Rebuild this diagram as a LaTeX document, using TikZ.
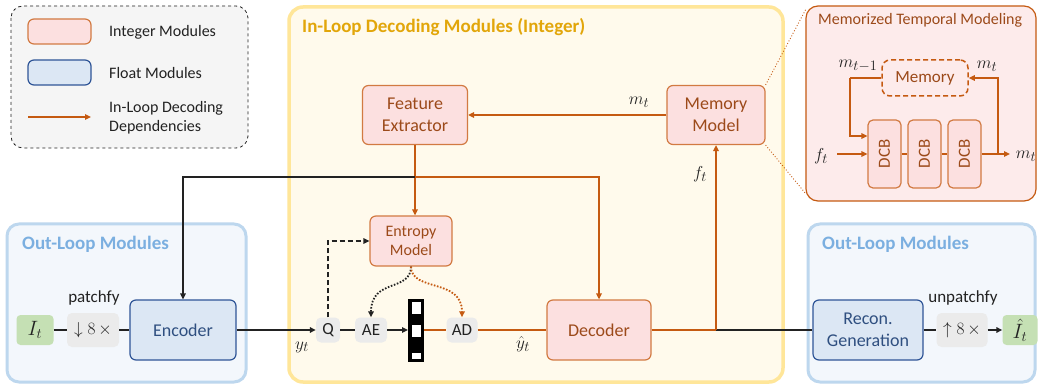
\documentclass[tikz,border=0pt]{standalone}
\usepackage{fontspec}
\setmainfont{Carlito}
\usetikzlibrary{arrows.meta,calc}
\definecolor{org}{HTML}{C55A11}
\definecolor{orgb}{HTML}{D27A42}
\definecolor{pinkf}{HTML}{FCE0E0}
\definecolor{orgtxt}{HTML}{9C4A1A}
\definecolor{bluef}{HTML}{DCE7F4}
\definecolor{blueb}{HTML}{2F5597}
\definecolor{bluetxt}{HTML}{2F4F80}
\definecolor{greenf}{HTML}{C5E0B4}
\definecolor{grayf}{HTML}{EBEBEB}
\definecolor{yelf}{HTML}{FFFAEC}
\definecolor{yelb}{HTML}{FFE699}
\definecolor{yeltxt}{HTML}{E2A60A}
\definecolor{outf}{HTML}{F3F7FC}
\definecolor{outb}{HTML}{BDD7EE}
\definecolor{outtxt}{HTML}{7BAFE0}
\definecolor{mtmf}{HTML}{FDEBEB}
\definecolor{legf}{HTML}{F5F5F5}
\definecolor{txt}{HTML}{222222}
\tikzset{
  fs/.style 2 args={font=\fontsize{#1}{#2}\selectfont},
  intbox/.style={draw=orgb, fill=pinkf, rounded corners=6pt, line width=1.2pt, text=orgtxt, align=center, inner sep=0pt, fs={18}{22}},
  fltbox/.style={draw=blueb, fill=bluef, rounded corners=6pt, line width=1.2pt, text=bluetxt, align=center, inner sep=0pt, fs={18}{22}},
  grnbox/.style={fill=greenf, rounded corners=4pt, inner sep=0pt, text=txt, fs={21}{24}},
  graybox/.style={fill=grayf, rounded corners=5pt, inner sep=0pt, text=txt, fs={17}{20}},
  blk/.style={draw=txt, line width=1.5pt},
  orl/.style={draw=org, line width=1.6pt},
  tip/.style={-{Triangle[length=6pt,width=5.5pt]}},
  lbl/.style={text=txt, inner sep=0pt, fs={17}{20}},
  mlbl/.style={text=txt, inner sep=0pt, fs={19}{22}},
  ttl/.style={font=\bfseries\fontsize{19}{22}\selectfont, anchor=west, inner sep=0pt},
}
\begin{document}
\begin{tikzpicture}[x=1pt,y=-1pt]
\path[use as bounding box, fill=white] (0,0) rectangle (1040,387);
% legend
\draw[draw=txt, dashed, fill=legf, rounded corners=12pt, line width=0.8pt] (11,6) rectangle (248,148);
\node[intbox, minimum width=63, minimum height=25] (lg1) at (59.5,31.5) {};
\node[fltbox, minimum width=63, minimum height=25] (lg2) at (59.5,72.5) {};
\coordinate (la1) at (28,117); \coordinate (la2) at (91,117);
\draw[orl,tip] (la1) -- (la2);
\node[lbl, anchor=west, fs={16}{20}] (lt1) at (109,32) {Integer Modules};
\node[lbl, anchor=west, fs={16}{20}] (lt2) at (109,73) {Float Modules};
\node[lbl, anchor=west, align=left, fs={16}{19}] (lt3) at (109,118) {In-Loop Decoding\\Dependencies};
% containers
\draw[draw=yelb, fill=yelf, line width=3.5pt, rounded corners=14pt] (289,7) rectangle (783,382);
\node[ttl, text=yeltxt] (t1) at (302,27) {In-Loop Decoding Modules (Integer)};
\draw[draw=outb, fill=outf, line width=3pt, rounded corners=12pt] (7,224) rectangle (246,382);
\node[ttl, text=outtxt] (t2) at (22,244) {Out-Loop Modules};
\draw[draw=outb, fill=outf, line width=3pt, rounded corners=12pt] (808,224) rectangle (1035,382);
\node[ttl, text=outtxt] (t3) at (822,244) {Out-Loop Modules};
\draw[draw=org, fill=mtmf, line width=1.2pt, rounded corners=12pt] (806,6) rectangle (1036,201);
\node[anchor=west, inner sep=0pt, text=orgtxt, fs={16}{19}] (t4) at (818,20) {Memorized Temporal Modeling};
% main nodes
\node[intbox, minimum width=105, minimum height=59] (fe) at (415,115) {Feature\\Extractor};
\node[intbox, minimum width=98, minimum height=59] (mm) at (716,115) {Memory\\Model};
\node[intbox, minimum width=82, minimum height=50, fs={16}{19}] (em) at (411,241) {Entropy\\Model};
\node[intbox, minimum width=104, minimum height=60] (dec) at (599,330) {Decoder};
\node[fltbox, minimum width=106, minimum height=60] (enc) at (183,330) {Encoder};
\node[fltbox, minimum width=110, minimum height=60] (rec) at (868,330) {Recon.\\Generation};
\node[grnbox, minimum width=37, minimum height=30] (it) at (35,330) {$I_t$};
\node[graybox, minimum width=52, minimum height=34, fs={19}{22}] (ds) at (93,330) {$\downarrow 8\,\times$};
\node[graybox, minimum width=24, minimum height=25] (q) at (328,330) {Q};
\node[graybox, minimum width=32, minimum height=25] (ae) at (371,330) {AE};
\node[graybox, minimum width=31, minimum height=25] (ad) at (462,330) {AD};
\node[graybox, minimum width=51, minimum height=34, fs={19}{22}] (us) at (962,330) {$\uparrow 8\,\times$};
\node[grnbox, minimum width=35, minimum height=30] (ith) at (1020,330) {$\hat{I}_t$};
\node[draw=black, fill=black, line width=1pt, minimum width=15, minimum height=62, inner sep=0pt] (bs) at (416,330) {};
% labels
\node[lbl] (lp) at (94,298) {patchfy};
\node[lbl] (lu) at (963,298) {unpatchfy};
\node[mlbl] (ly) at (302,347) {$y_t$};
\node[mlbl] (lyh) at (523,344) {$\hat{y}_t$};
\node[mlbl] (lm) at (639,102) {$m_t$};
\node[mlbl] (lf) at (700,174) {$f_t$};
% connectors
\draw[blk] (it) -- (ds);
\draw[blk] (ds) -- (enc);
\draw[blk,tip] (enc) -- (q);
\draw[blk] (q) -- (ae);
\draw[blk,tip] (ae) -- (bs);
\draw[orl] (bs) -- (ad);
\draw[orl] (ad) -- (dec);
\draw[orl,tip] (fe.south) -- (fe.south |- em.north);
\coordinate (j1) at (415,177);
\draw[blk,tip] (j1) -| (enc.north);
\draw[orl,tip] (j1) -| (dec.north);
\draw[orl,tip] (mm) -- (fe);
\coordinate (j2) at (716,330);
\draw[orl] (dec) -- (j2);
\draw[blk] (j2) -- (rec);
\draw[orl,tip] (j2) -- (mm.south);
\draw[blk,dash pattern=on 5pt off 3pt,tip] (q.north) |- (em.west);
\draw[txt,line width=1.8pt,dash pattern=on 1.6pt off 1.6pt,tip] (em.south) .. controls (411,292) and (371,278) .. (ae.north);
\draw[org,line width=1.8pt,dash pattern=on 1.6pt off 1.6pt,tip] (em.south) .. controls (411,292) and (462,278) .. (ad.north);
\draw[blk] (rec) -- (us);
\draw[blk,tip] (us) -- (ith);
\fill[white] (412,302) rectangle (420.5,314);
\fill[white] (412,325) rectangle (420.5,337);
\fill[white] (412,353) rectangle (420.5,359);
% zoom lines
\coordinate (z1) at (806,9);
\coordinate (z2) at (806,194);
\draw[org, dotted, line width=0.9pt] (mm.north east) -- (z1);
\draw[org, dotted, line width=0.9pt] (mm.south east) -- (z2);
% MTM interior
\node[draw=org, dash pattern=on 5pt off 3pt, line width=1.5pt, rounded corners=8pt, minimum width=86, minimum height=36, inner sep=0pt, text=orgtxt, fs={17}{20}] (memo) at (925,78) {Memory};
\node[intbox, minimum width=33, minimum height=68, rounded corners=5pt, fs={17}{20}] (d1) at (884.5,154) {\rotatebox{90}{DCB}};
\node[intbox, minimum width=33, minimum height=68, rounded corners=5pt, fs={17}{20}] (d2) at (924.5,154) {\rotatebox{90}{DCB}};
\node[intbox, minimum width=33, minimum height=68, rounded corners=5pt, fs={17}{20}] (d3) at (964.5,154) {\rotatebox{90}{DCB}};
\coordinate (fin) at (837,154);
\coordinate (mout) at (1010,154);
\coordinate (br) at (998,154);
\coordinate (ml) at (850,78);
\node[mlbl] (lf2) at (821,156) {$f_t$};
\node[mlbl] (lm2) at (1026,156) {$m_t$};
\node[mlbl] (lm3) at (987,66) {$m_t$};
\node[mlbl] (lm4) at (858,66) {$m_{t-1}$};
\draw[orl,tip] (fin) -- (d1);
\draw[orl] (d1) -- (d2);
\draw[orl] (d2) -- (d3);
\draw[orl,tip] (d3) -- (mout);
\draw[orl,tip] (br) |- (memo.east);
\draw[orl] (memo.west) -- (ml);
\draw[orl,tip] (ml) |- ($(d1.west)+(0,-18)$);
\end{tikzpicture}
\end{document}
